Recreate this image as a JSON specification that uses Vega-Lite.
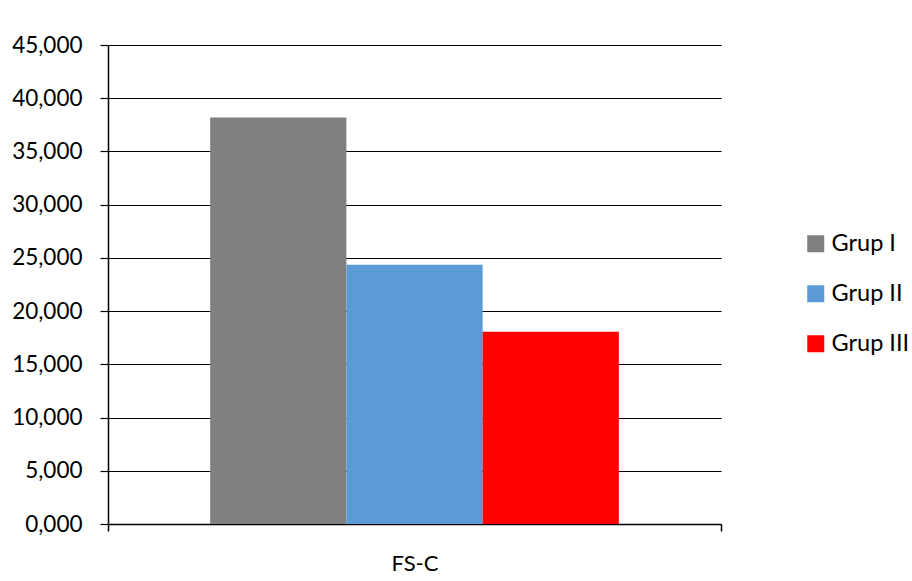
{
  "$schema": "https://vega.github.io/schema/vega-lite/v6.json",
  "width": 613,
  "height": 479,
  "autosize": "none",
  "padding": {"left": 108, "top": 45, "right": 191, "bottom": 57},
  "background": "white",
  "config": {
    "locale": {
      "number": {"decimal": ",", "thousands": ".", "grouping": [3], "currency": ["", " TL"]}
    },
    "font": "Lato",
    "view": {"stroke": null}
  },
  "data": {
    "values": [
      {"olcum": "FS-C", "grup": "Grup I", "deger": 38.2},
      {"olcum": "FS-C", "grup": "Grup II", "deger": 24.35},
      {"olcum": "FS-C", "grup": "Grup III", "deger": 18.05}
    ]
  },
  "mark": {"type": "bar"},
  "encoding": {
    "x": {
      "field": "olcum",
      "type": "nominal",
      "title": null,
      "scale": {"paddingInner": 0, "paddingOuter": 0},
      "axis": {
        "labelAngle": 0,
        "labelFont": "Lato",
        "labelFontSize": 22,
        "labelColor": "#000000",
        "labelPadding": 22,
        "domainColor": "#000000",
        "domainWidth": 1.5,
        "tickColor": "#000000",
        "tickBand": "extent",
        "tickSize": 7,
        "tickWidth": 1.5
      }
    },
    "xOffset": {
      "field": "grup",
      "type": "nominal",
      "sort": ["Grup I", "Grup II", "Grup III"],
      "scale": {"paddingInner": 0, "paddingOuter": 0.75}
    },
    "y": {
      "field": "deger",
      "type": "quantitative",
      "title": null,
      "scale": {"domain": [0, 45], "nice": false},
      "axis": {
        "values": [0, 5, 10, 15, 20, 25, 30, 35, 40, 45],
        "format": ".3f",
        "labelFont": "Lato",
        "labelFontSize": 22.5,
        "labelColor": "#000000",
        "labelPadding": 18,
        "domainColor": "#000000",
        "domainWidth": 1.5,
        "tickColor": "#000000",
        "tickSize": 8,
        "tickWidth": 1.2,
        "grid": true,
        "gridColor": "#000000",
        "gridWidth": 1.2
      }
    },
    "color": {
      "field": "grup",
      "type": "nominal",
      "sort": ["Grup I", "Grup II", "Grup III"],
      "scale": {"domain": ["Grup I", "Grup II", "Grup III"], "range": ["#808080", "#5B9BD5", "#FF0000"]},
      "legend": {
        "title": null,
        "orient": "none",
        "legendX": 696,
        "legendY": 187,
        "symbolType": "square",
        "symbolSize": 289,
        "symbolStrokeWidth": 0,
        "labelFont": "Lato",
        "labelFontSize": 23.5,
        "labelColor": "#000000",
        "labelOffset": 4,
        "rowPadding": 25
      }
    }
  }
}
